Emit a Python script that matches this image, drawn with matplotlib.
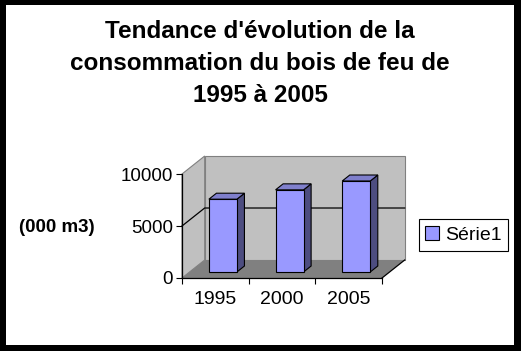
"""Tendance d'évolution de la consommation du bois de feu (barres 3D style Excel)"""
import matplotlib
matplotlib.use('Agg')
import matplotlib.pyplot as plt
from matplotlib.patches import Polygon, Rectangle

plt.rcParams['font.family'] = ['Liberation Sans', 'DejaVu Sans']

# données
annees = ['1995', '2000', '2005']
valeurs = [7000, 7900, 8750]
serie = 'Série1'
yticks = [0, 5000, 10000]
titre = "Tendance d'évolution de la\nconsommation du bois de feu de\n1995 à 2005"
unite = '(000 m3)'

W, H = 521, 351
fig = plt.figure(figsize=(W / 100, H / 100), dpi=100, facecolor='black')

def fx(px):
    return px / W

def fy(py):
    return 1 - py / H

# cadre blanc
fig.patches.append(Rectangle((fx(6), fy(345)), fx(514) - fx(6), fy(5) - fy(345),
                             transform=fig.transFigure, facecolor='white',
                             edgecolor='none', zorder=-5))

# repère : origine (cat 0, val 0) au pixel (182, 278)
PX_CAT = 66.67
PX_VAL = 0.0104
X0, Y0 = 182, 278
left, right, top, bottom = 140, 430, 140, 312
ax = fig.add_axes([fx(left), fy(bottom), fx(right) - fx(left), fy(top) - fy(bottom)])
ax.set_xlim((left - X0) / PX_CAT, (right - X0) / PX_CAT)
ax.set_ylim((Y0 - bottom) / PX_VAL, (Y0 - top) / PX_VAL)
ax.patch.set_visible(False)

n = len(annees)
ymax = yticks[-1]
DX, DY = 0.34, 1730  # profondeur

mur = '#c0c0c0'
sol = '#808080'
# mur gauche, mur du fond, sol
ax.add_patch(Polygon([(0, 0), (0, ymax), (DX, ymax + DY), (DX, DY)],
                     facecolor=mur, edgecolor='#808080', lw=0.8, zorder=1))
ax.add_patch(Polygon([(DX, DY), (DX, ymax + DY), (n + DX, ymax + DY), (n + DX, DY)],
                     facecolor=mur, edgecolor='#808080', lw=0.8, zorder=1))
ax.add_patch(Polygon([(0, 0), (n, 0), (n + DX, DY), (DX, DY)],
                     facecolor=sol, edgecolor='none', zorder=2))
ax.plot([n, n + DX], [0, DY], color='black', lw=0.9, zorder=3)

# quadrillage
for g in yticks[1:-1]:
    ax.plot([0, DX, n + DX], [g, g + DY, g + DY], color='black', lw=0.9, zorder=3)

# barres
bw = 0.42
d0, d1 = 1 / 3, 2 / 3
bdx, bdy = DX * (d1 - d0), DY * (d1 - d0)
for i, v in enumerate(valeurs):
    ox, oy = DX * d0, DY * d0
    xl = i + 0.5 - bw / 2 + ox
    xr = xl + bw
    ax.add_patch(Polygon([(xr, oy), (xr, oy + v), (xr + bdx, oy + v + bdy), (xr + bdx, oy + bdy)],
                         facecolor='#4d4d80', edgecolor='black', lw=0.8, zorder=4))
    ax.add_patch(Polygon([(xl, oy + v), (xr, oy + v), (xr + bdx, oy + v + bdy), (xl + bdx, oy + v + bdy)],
                         facecolor='#7f7fcc', edgecolor='black', lw=0.8, zorder=4))
    ax.add_patch(Rectangle((xl, oy), bw, v, facecolor='#9999ff', edgecolor='black',
                           lw=0.8, zorder=5, label=serie if i == 0 else None))

# axes
for s in ['top', 'right']:
    ax.spines[s].set_visible(False)
ax.spines['left'].set_position(('data', 0))
ax.spines['left'].set_bounds(0, ymax)
ax.spines['bottom'].set_position(('data', 0))
ax.spines['bottom'].set_bounds(0, n)
for s in ['left', 'bottom']:
    ax.spines[s].set_linewidth(0.9)
    ax.spines[s].set_zorder(6)

ax.set_yticks(yticks)
ax.set_yticklabels([str(t) for t in yticks], fontsize=13.5)
ax.tick_params(axis='y', length=4.5, width=0.8, pad=2)
ax.set_xticks([i + 0.5 for i in range(n)])
ax.set_xticklabels(annees, fontsize=14)
ax.set_xticks(range(n + 1), minor=True)
ax.tick_params(axis='x', which='major', length=0, pad=9)
ax.tick_params(axis='x', which='minor', length=4, width=0.8)

fig.text(fx(57), fy(227), unite, fontsize=13.5, fontweight='bold', ha='center', va='center')
fig.text(fx(260), fy(64), titre, fontsize=17.5, fontweight='bold', ha='center', va='center',
         linespacing=1.5)

leg = ax.legend(loc='center', bbox_to_anchor=(fx(463.5), fy(235)), bbox_transform=fig.transFigure,
                fontsize=14, handlelength=0.7, handleheight=0.7, handletextpad=0.3,
                borderpad=0.35, fancybox=False, framealpha=1, edgecolor='black')
leg.get_frame().set_linewidth(0.8)

fig.savefig('out.png', dpi=100, facecolor='black')
